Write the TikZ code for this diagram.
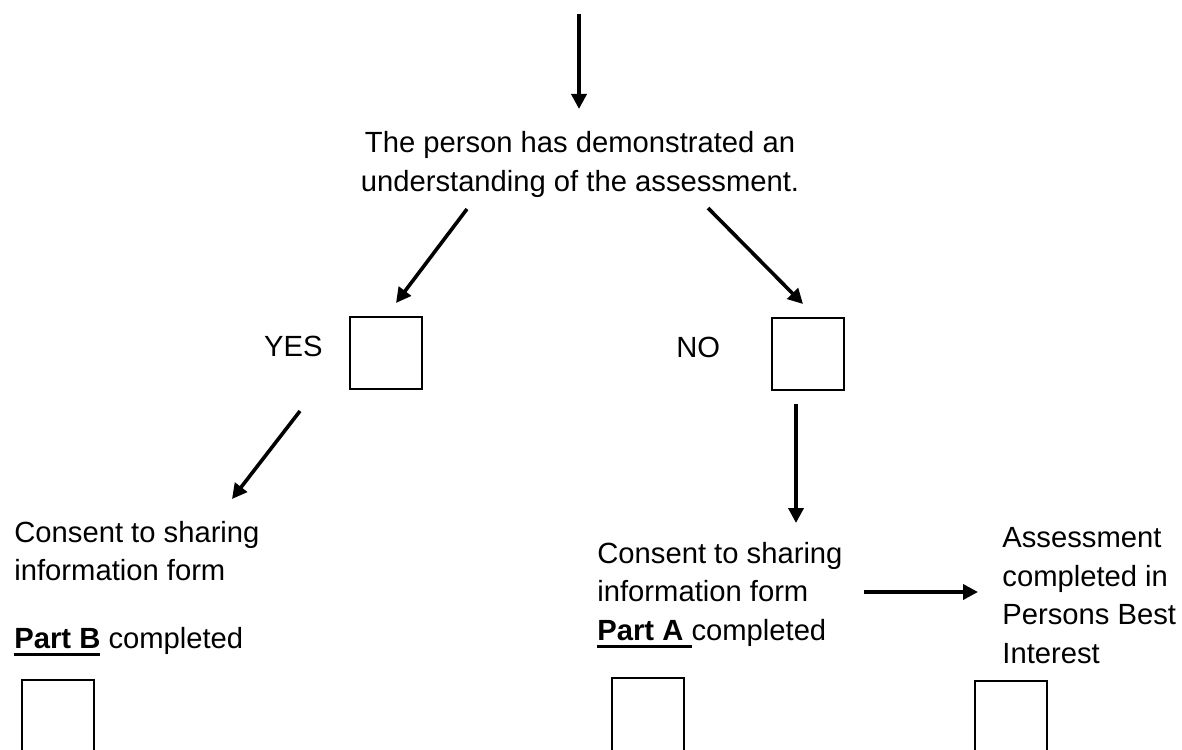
\documentclass[tikz,border=0pt]{standalone}
\usepackage{fontspec}
\setmainfont{Liberation Sans}
\usetikzlibrary{arrows.meta}

\newsavebox{\partbox}
\newcommand{\partul}[1]{\sbox{\partbox}{#1}\rlap{\rule[-4pt]{\wd\partbox}{1.5pt}}\usebox{\partbox}}

\tikzset{
    flow/.style={line width=1.8pt, -{Triangle[length=7.5pt,width=7.5pt]}},
    tickbox/.style={draw, line width=1pt, minimum width=36pt, minimum height=36pt, inner sep=0pt},
    txt/.style={anchor=base west, align=left, inner sep=0pt}
}

\begin{document}
\begin{tikzpicture}[x=0.5pt,y=-0.5pt,font=\fontsize{14.6pt}{19.25pt}\selectfont]
        \useasboundingbox (0,0) rectangle (1182,749);
        \clip (0,0) rectangle (1182,749);

        % question and answers (base = last line)
        \node[txt, anchor=base, align=center] (q) at (580,191) {The person has demonstrated an\\understanding of the assessment.};
        \node[txt, anchor=base east] (yes) at (323,356) {YES};
        \node[txt] (no) at (676,357) {NO};
        \node[tickbox] (yesbox) at (385.5,353) {};
        \node[tickbox] (nobox) at (808,354) {};

        % outcomes
        \node[txt] (partB) at (14,648) {Consent to sharing\\information form\\[14.5pt]\partul{\textbf{Part B}} completed};
        \node[txt] (partA) at (597,640) {Consent to sharing\\information form\\\partul{\textbf{Part A }}completed};
        \node[txt] (best) at (1002,663) {Assessment\\completed in\\Persons Best\\Interest};
        \node[tickbox, minimum height=40pt] (boxB) at (58,720) {};
        \node[tickbox, minimum height=40pt] (boxA) at (648,718) {};
        \node[tickbox, minimum height=40pt] (boxbest) at (1011,721) {};

        % arrow ends
        \coordinate (top) at (579,14);
        \coordinate (q-in) at (579,109);
        \coordinate (q-yes) at (467,209);
        \coordinate (yes-in) at (396,303);
        \coordinate (q-no) at (708,208);
        \coordinate (no-in) at (803,304);
        \coordinate (yes-out) at (300,411);
        \coordinate (B-in) at (232,499);
        \coordinate (no-out) at (796,404);
        \coordinate (A-in) at (796,523);
        \coordinate (A-out) at (864,592);
        \coordinate (best-in) at (978,592);

        \draw[flow] (top) -- (q-in);
        \draw[flow] (q-yes) -- (yes-in);
        \draw[flow] (q-no) -- (no-in);
        \draw[flow] (yes-out) -- (B-in);
        \draw[flow] (no-out) -- (A-in);
        \draw[flow] (A-out) -- (best-in);
    \end{tikzpicture}
\end{document}
